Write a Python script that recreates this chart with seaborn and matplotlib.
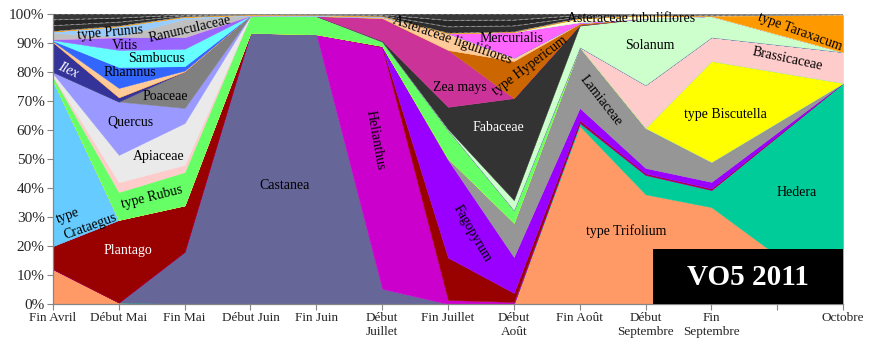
import matplotlib
matplotlib.use("Agg")
import matplotlib.pyplot as plt
import seaborn as sns
from matplotlib.patches import Rectangle

# -----------------------------------------------------------
# Données (% du spectre pollinique, VO5 2011)
# -----------------------------------------------------------
periodes = ["Fin Avril", "Début Mai", "Fin Mai", "Début Juin", "Fin Juin",
            "Début\nJuillet", "Fin Juillet", "Début\nAoût", "Fin Août",
            "Début\nSeptembre", "Fin\nSeptembre", "", "Octobre"]
# la 12e catégorie (vide) n'a pas de valeur : Excel relie Fin Septembre à Octobre
x_pos = [0, 1, 2, 3, 4, 5, 6, 7, 8, 9, 10, 12]

trifolium    = [12.0, 0.5, 0, 0, 0, 0, 0, 0, 61.4, 37.8, 33.4, 0]
hedera       = [0, 0, 0, 0, 0, 0, 0, 0, 1.0, 6.7, 5.9, 76.2]
castanea     = [0, 0, 18.0, 93.5, 93.0, 5.2, 0, 0, 0, 0, 0, 0]
helianthus   = [0, 0, 0, 0, 0, 83.4, 1.4, 0.7, 0.3, 0.2, 0.2, 0]
plantago     = [8.0, 28.5, 16.0, 0, 0, 0.2, 14.6, 3.1, 0.6, 0.3, 0.3, 0]
fagopyrum    = [0, 0, 0, 0, 0, 0.2, 33.7, 12.4, 4.3, 1.9, 2.3, 0]
lamiaceae    = [0, 0, 0, 0, 0, 0, 0.5, 11.8, 21.0, 13.8, 6.9, 0]
crataegus    = [57.0, 0, 0, 0, 0, 0, 0, 0, 0, 0, 0, 0]
biscutella   = [0, 0, 0, 0, 0, 0, 0, 0, 0, 0, 34.8, 0]
rubus        = [1.3, 9.6, 11.5, 6.0, 6.3, 1.5, 9.8, 4.4, 0, 0, 0, 0]
brassicaceae = [0.4, 3.4, 2.5, 0, 0, 0, 0, 0, 0, 14.8, 8.2, 10.7]
apiaceae     = [0.8, 9.4, 14.4, 0, 0, 0, 0, 0, 0, 0, 0, 0]
quercus      = [0.5, 18.4, 5.2, 0, 0, 0, 0, 0, 0, 0, 0, 0]
poaceae      = [0, 0, 12.6, 0, 0, 0, 0, 0, 0, 0, 0, 0]
ilex         = [10.3, 1.5, 0, 0, 0, 0, 0, 0, 0, 0, 0, 0]
solanum      = [0, 0, 0, 0, 0, 0, 0.3, 3.4, 7.4, 23.0, 7.3, 0]
fabaceae     = [0, 0, 0, 0, 0, 0.3, 7.7, 35.2, 0.3, 0, 0, 0]
zea_mays     = [0, 0, 0, 0, 0, 7.8, 19.6, 0, 0, 0, 0, 0]
hypericum    = [0, 0, 0, 0, 0, 0, 0, 12.8, 0.4, 0, 0, 0]
ast_ligul    = [0.3, 3.2, 0.3, 0, 0, 0.4, 5.8, 1.2, 0.2, 0, 0, 0]
rhamnus      = [0.2, 7.2, 1.5, 0, 0, 0, 0, 0, 0, 0, 0, 0]
sambucus     = [0.2, 5.9, 6.0, 0, 0, 0, 0, 0, 0, 0, 0, 0]
vitis        = [0.3, 4.4, 4.0, 0, 0, 0, 0, 0, 0, 0, 0, 0]
mercurialis  = [0, 0, 0, 0, 0, 0, 0, 8.8, 0.3, 0, 0, 0]
ranunc       = [2.2, 0.3, 6.3, 0, 0, 0, 0, 0, 0, 0, 0, 0]
prunus       = [0.5, 3.5, 0.7, 0.2, 0.3, 0.2, 0, 0, 0, 0, 0, 0]
ast_tubul    = [0, 0, 0, 0, 0, 0, 0, 0, 1.3, 1.0, 0, 0]
taraxacum    = [0, 0, 0, 0, 0, 0, 0, 0, 0, 0, 0, 12.8]
autres1      = [2.0, 1.4, 0.4, 0.1, 0.1, 0.3, 2.2, 2.1, 0.5, 0.2, 0.2, 0.1]
autres2      = [2.0, 1.4, 0.3, 0.1, 0.15, 0.25, 2.2, 2.0, 0.5, 0.15, 0.25, 0.1]
autres3      = [2.0, 1.4, 0.3, 0.1, 0.15, 0.25, 2.2, 2.1, 0.5, 0.15, 0.25, 0.1]

series = [trifolium, hedera, castanea, helianthus, plantago, fagopyrum,
          lamiaceae, crataegus, biscutella, rubus, brassicaceae, apiaceae,
          quercus, poaceae, ilex, solanum, fabaceae, zea_mays, hypericum,
          ast_ligul, rhamnus, sambucus, vitis, mercurialis, ranunc, prunus,
          ast_tubul, taraxacum, autres1, autres2, autres3]
couleurs = ["#FF9966", "#00CC99", "#666699", "#CC00CC", "#990000", "#9900FF",
            "#969696", "#66CCFF", "#FFFF00", "#66FF66", "#FFCCCC", "#EAEAEA",
            "#9999FF", "#808080", "#333399", "#CCFFCC", "#333333", "#CC3399",
            "#CC6600", "#FFCC99", "#3366FF", "#66FFFF", "#9966FF", "#FF66FF",
            "#C0C0C0", "#99CCFF", "#FFFFCC", "#FF9900", "#2E2E2E", "#262626",
            "#383838"]

# -----------------------------------------------------------
# Figure
# -----------------------------------------------------------
sns.set_theme(style="white")
plt.rcParams['font.family'] = ['Liberation Serif', 'DejaVu Serif']

fig = plt.figure(figsize=(8.74, 3.51), dpi=100)
ax = fig.add_axes([0.0606, 0.134, 0.904, 0.826])

polys = ax.stackplot(x_pos, *series, colors=couleurs,
                     edgecolor="face", linewidth=0.3)
# bandeau sombre du haut : traits pointillés gris
for p in polys[-3:]:
    p.set_edgecolor("#9a9a9a")
    p.set_linestyle((0, (4, 3)))
    p.set_linewidth(0.6)

ax.set_xlim(0, 12)
ax.set_ylim(0, 100)
ax.set_xticks(range(len(periodes)))
ax.set_xticklabels(periodes, fontsize=9.5)
ax.set_yticks(range(0, 101, 10))
ax.set_yticklabels([f"{v}%" for v in range(0, 101, 10)], fontsize=11)
ax.tick_params(axis="both", direction="out", length=4, width=0.8,
               color="#868686", pad=2, left=True, bottom=True)
sns.despine(ax=ax)
for s in ["left", "bottom"]:
    ax.spines[s].set_color("#868686")
    ax.spines[s].set_linewidth(0.9)

# -----------------------------------------------------------
# Étiquettes des taxons
# -----------------------------------------------------------
etiquettes = [
    ("type Prunus", 0.87, 93.6, 5, "black", "normal"),
    ("Ranunculaceae", 2.08, 94.8, 13, "black", "normal"),
    ("Vitis", 1.09, 89.3, 0, "black", "normal"),
    ("Sambucus", 1.58, 84.8, 0, "black", "normal"),
    ("Rhamnus", 1.17, 79.7, 0, "black", "normal"),
    ("Ilex", 0.22, 80.5, -25, "white", "italic"),
    ("Poaceae", 1.70, 71.4, 0, "black", "normal"),
    ("Quercus", 1.17, 62.8, 0, "black", "normal"),
    ("Apiaceae", 1.61, 50.7, 0, "black", "normal"),
    ("type Rubus", 1.50, 36.9, 14, "black", "normal"),
    ("type", 0.23, 30.3, 20, "black", "normal"),
    ("Crataegus", 0.56, 26.9, 20, "black", "normal"),
    ("Plantago", 1.14, 18.3, 0, "white", "normal"),
    ("Castanea", 3.52, 41.0, 0, "black", "normal"),
    ("Helianthus", 4.89, 56.6, -80, "black", "normal"),
    ("Fagopyrum", 6.36, 24.5, -60, "black", "normal"),
    ("Fabaceae", 6.77, 60.7, 0, "white", "normal"),
    ("Zea mays", 6.18, 74.8, 0, "black", "normal"),
    ("Asteraceae liguliflores", 6.06, 91.0, -19, "black", "normal"),
    ("Mercurialis", 6.97, 91.7, 0, "black", "normal"),
    ("type Hypericum", 7.25, 82.1, 37, "black", "normal"),
    ("Asteraceae tubuliflores", 8.78, 98.3, 0, "black", "normal"),
    ("Solanum", 9.07, 89.3, 0, "black", "normal"),
    ("Lamiaceae", 8.32, 70.3, -52, "black", "normal"),
    ("type Biscutella", 10.21, 65.5, 0, "black", "normal"),
    ("Brassicaceae", 11.15, 84.5, -12, "black", "normal"),
    ("type Taraxacum", 11.35, 93.8, -20, "black", "normal"),
    ("Hedera", 11.29, 38.6, 0, "black", "normal"),
    ("type Trifolium", 8.70, 25.2, 0, "black", "normal"),
]
for txt, xt, yt, rot, col, sty in etiquettes:
    ax.text(xt, yt, txt, rotation=rot, color=col, style=sty, fontsize=10,
            ha="center", va="center", rotation_mode="anchor", zorder=4)

# cartouche
ax.add_patch(Rectangle((0.7595, 0), 0.2405, 0.19, transform=ax.transAxes,
                       facecolor="black", edgecolor="none", zorder=5))
ax.text(0.88, 0.093, "VO5 2011", transform=ax.transAxes, color="white",
        fontsize=21, fontweight="bold", ha="center", va="center", zorder=6)

fig.savefig("out.png", dpi=100)
